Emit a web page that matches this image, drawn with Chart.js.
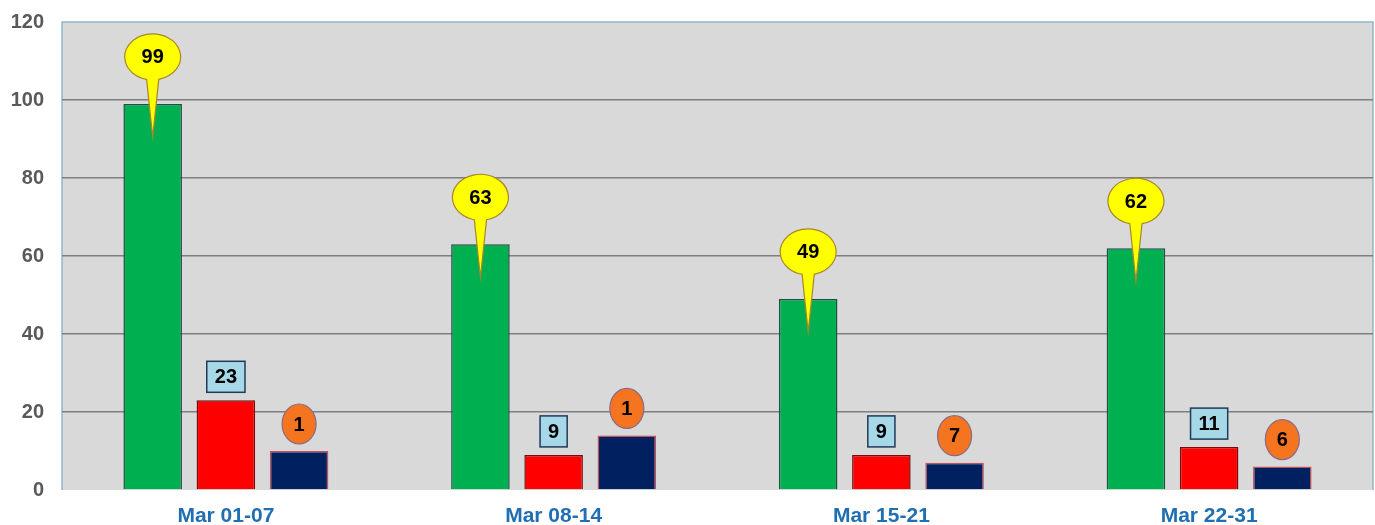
<!DOCTYPE html>
<html>
<head>
<meta charset="utf-8">
<script src="https://cdn.jsdelivr.net/npm/chart.js@4/dist/chart.umd.min.js"></script>
<style>
  html, body { margin: 0; padding: 0; background: #fff; }
  #wrap { width: 1375px; height: 525px; }
</style>
</head>
<body>
<div id="wrap"><canvas id="weekChart"></canvas></div>
<script>
// data
const weeks = ['Mar 01-07', 'Mar 08-14', 'Mar 15-21', 'Mar 22-31'];
const greenValues = [99, 63, 49, 62];
const redValues = [23, 9, 9, 11];
const navyValues = [10, 14, 7, 6];
// nhãn hiển thị trên các cột (cột xanh đậm ghi khác giá trị)
const greenLabels = ['99', '63', '49', '62'];
const redLabels = ['23', '9', '9', '11'];
const navyLabels = ['1', '1', '7', '6'];
const yTicks = [0, 20, 40, 60, 80, 100, 120];

const labelFont = 'bold 20px "Liberation Sans", Arial, sans-serif';

// nền xám + viền vùng vẽ
const plotBg = {
    id: 'plotBg',
    beforeDraw(chart) {
        const { ctx, chartArea: a } = chart;
        ctx.save();
        ctx.fillStyle = '#d9d9d9';
        ctx.fillRect(a.left, a.top, a.right - a.left, a.bottom - a.top);
        ctx.strokeStyle = '#8fb8c8';
        ctx.lineWidth = 1.5;
        ctx.beginPath();
        ctx.moveTo(a.left, a.bottom);
        ctx.lineTo(a.left, a.top);
        ctx.lineTo(a.right, a.top);
        ctx.lineTo(a.right, a.bottom);
        ctx.stroke();
        ctx.restore();
    }
};

// các nhãn kiểu bong bóng / hộp / hình tròn
const callouts = {
    id: 'callouts',
    afterDatasetsDraw(chart) {
        const ctx = chart.ctx;
        ctx.save();
        ctx.font = labelFont;
        ctx.textAlign = 'center';
        ctx.textBaseline = 'middle';

        // xanh lá: bong bóng vàng có đuôi
        chart.getDatasetMeta(0).data.forEach((bar, i) => {
            const cx = bar.x, cy = bar.y - 47, rx = 28, ry = 23, d = 0.22;
            const tipY = bar.y + 33;
            ctx.beginPath();
            ctx.moveTo(cx, tipY);
            ctx.lineTo(cx + rx * Math.cos(Math.PI / 2 - d), cy + ry * Math.sin(Math.PI / 2 - d));
            ctx.ellipse(cx, cy, rx, ry, 0, Math.PI / 2 - d, Math.PI / 2 + d, true);
            ctx.closePath();
            ctx.fillStyle = '#ffff00';
            ctx.fill();
            ctx.strokeStyle = '#a8862a';
            ctx.lineWidth = 1.2;
            ctx.stroke();
            ctx.fillStyle = '#000';
            ctx.fillText(greenLabels[i], cx, cy + 1);
        });

        // đỏ: hộp xanh nhạt
        chart.getDatasetMeta(1).data.forEach((bar, i) => {
            const w = ctx.measureText(redLabels[i]).width + 16, h = 31;
            const x = bar.x - w / 2, y = bar.y - 8 - h;
            ctx.fillStyle = '#a6d8e8';
            ctx.fillRect(x, y, w, h);
            ctx.strokeStyle = '#1f3a5a';
            ctx.lineWidth = 1.5;
            ctx.strokeRect(x, y, w, h);
            ctx.fillStyle = '#000';
            ctx.fillText(redLabels[i], bar.x, y + h / 2 + 1);
        });

        // xanh đậm: hình tròn cam
        chart.getDatasetMeta(2).data.forEach((bar, i) => {
            const cx = bar.x, cy = bar.y - 27;
            ctx.beginPath();
            ctx.ellipse(cx, cy, 17, 20, 0, 0, Math.PI * 2);
            ctx.fillStyle = '#f47420';
            ctx.fill();
            ctx.strokeStyle = '#8a6a86';
            ctx.lineWidth = 1.2;
            ctx.stroke();
            ctx.fillStyle = '#000';
            ctx.fillText(navyLabels[i], cx, cy + 1);
        });
        ctx.restore();
    }
};

const barStyle = { barPercentage: 0.8, categoryPercentage: 0.67, borderWidth: 1.5, borderSkipped: 'bottom' };

const config = {
    type: 'bar',
    data: {
        labels: weeks,
        datasets: [
            { data: greenValues, backgroundColor: '#00b050', borderColor: '#1d4f45', ...barStyle },
            { data: redValues, backgroundColor: '#ff0000', borderColor: '#7a0a0a', ...barStyle },
            { data: navyValues, backgroundColor: '#002060', borderColor: '#c0505a', ...barStyle }
        ]
    },
    options: {
        responsive: true,
        maintainAspectRatio: false,
        animation: false,
        layout: { padding: { top: 22, right: 2, left: 0, bottom: 0 } },
        plugins: { legend: { display: false }, tooltip: { enabled: false } },
        scales: {
            x: {
                grid: { display: false, drawTicks: false },
                border: { display: false },
                ticks: {
                    color: '#1f6fb2',
                    font: { family: '"Liberation Sans", Arial, sans-serif', size: 21, weight: 'bold' },
                    padding: 14
                },
                afterFit(scale) { scale.height = 35; }
            },
            y: {
                min: 0,
                max: 120,
                afterBuildTicks(scale) { scale.ticks = yTicks.map(v => ({ value: v })); },
                grid: {
                    drawTicks: false,
                    color: ctx => (ctx.tick.value === 0 || ctx.tick.value === 120) ? 'rgba(0,0,0,0)' : '#7f7f7f',
                    lineWidth: 1.5
                },
                border: { display: false },
                ticks: {
                    color: '#595959',
                    font: { family: '"Liberation Sans", Arial, sans-serif', size: 20, weight: 'bold' },
                    padding: 18
                },
                afterFit(scale) {
                    scale.width = 62;
                    scale.paddingTop = 0;
                    scale.paddingBottom = 0;
                }
            }
        }
    },
    plugins: [plotBg, callouts]
};

const ctx = document.getElementById('weekChart').getContext('2d');
const weekChart = new Chart(ctx, config);
</script>
</body>
</html>
